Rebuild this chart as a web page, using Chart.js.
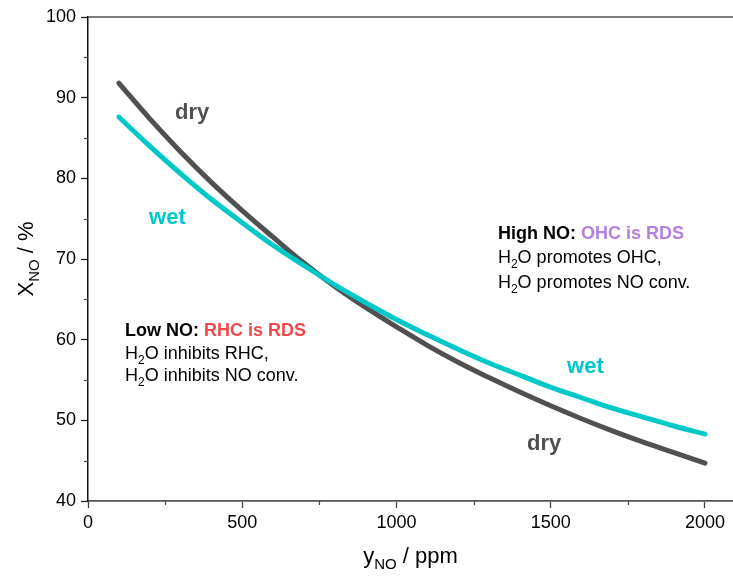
<!DOCTYPE html>
<html>
<head>
<meta charset="utf-8">
<script src="https://cdn.jsdelivr.net/npm/chart.js@4.4.1/dist/chart.umd.min.js"></script>
<style>
  html, body { margin: 0; padding: 0; background: #fff; }
  #wrap { width: 733px; height: 576px; position: relative; }
</style>
</head>
<body>
<div id="wrap"><canvas id="chart"></canvas></div>
<script>
// DATOS
const yNO = [100, 200, 300, 400, 500, 600, 700, 800, 900, 1000,
             1100, 1200, 1300, 1400, 1500, 1600, 1700, 1800, 1900, 2000];
const xDry = [91.8, 87.4, 83.3, 79.5, 76.0, 72.7, 69.5, 66.6, 64.0, 61.6,
              59.3, 57.2, 55.3, 53.5, 51.8, 50.2, 48.7, 47.3, 46.0, 44.7];
const xWet = [87.6, 84.0, 80.6, 77.4, 74.5, 71.7, 69.2, 66.8, 64.6, 62.5,
              60.6, 58.8, 57.1, 55.6, 54.1, 52.8, 51.5, 50.4, 49.3, 48.3];

const xMajorTicks = [0, 500, 1000, 1500, 2000];
const xMinorTicks = [250, 750, 1250, 1750];
const yMajorTicks = [40, 50, 60, 70, 80, 90, 100];
const yMinorTicks = [45, 55, 65, 75, 85, 95];

const FONT = '"Liberation Sans", Arial, sans-serif';
const DRY_COLOR = '#505050';
const WET_COLOR = '#00c8c8';

// DIBUJAR TEXTO CON SUBINDICES
function drawRich(ctx, parts, x, y, size) {
  let cx = x;
  parts.forEach(p => {
    const fs = p.sub ? Math.round(size * 0.68) : size;
    ctx.font = (p.bold ? 'bold ' : '') + fs + 'px ' + FONT;
    ctx.fillStyle = p.color || '#000';
    ctx.fillText(p.t, cx, p.sub ? y + size * 0.28 : y);
    cx += ctx.measureText(p.t).width;
  });
  return cx - x;
}

function richWidth(ctx, parts, size) {
  let w = 0;
  parts.forEach(p => {
    const fs = p.sub ? Math.round(size * 0.68) : size;
    ctx.font = (p.bold ? 'bold ' : '') + fs + 'px ' + FONT;
    w += ctx.measureText(p.t).width;
  });
  return w;
}

// BLOQUES DE TEXTO (posicion en coordenadas de datos)
const notes = [
  { x: 282, y: 87.3, size: 22, lines: [[{ t: 'dry', bold: true, color: DRY_COLOR }]] },
  { x: 198, y: 74.4, size: 22, lines: [[{ t: 'wet', bold: true, color: WET_COLOR }]] },
  { x: 1553, y: 55.9, size: 22, lines: [[{ t: 'wet', bold: true, color: WET_COLOR }]] },
  { x: 1423, y: 46.3, size: 22, lines: [[{ t: 'dry', bold: true, color: DRY_COLOR }]] },
  { x: 120, y: 60.4, size: 18, gap: 22.5, lines: [
    [{ t: 'Low NO: ', bold: true }, { t: 'RHC is RDS', bold: true, color: '#f04848' }],
    [{ t: 'H' }, { t: '2', sub: true }, { t: 'O inhibits RHC,' }],
    [{ t: 'H' }, { t: '2', sub: true }, { t: 'O inhibits NO conv.' }]
  ] },
  { x: 1329, y: 72.5, size: 18, gap: 24.5, lines: [
    [{ t: 'High NO: ', bold: true }, { t: 'OHC is RDS', bold: true, color: '#b47ee2' }],
    [{ t: 'H' }, { t: '2', sub: true }, { t: 'O promotes OHC,' }],
    [{ t: 'H' }, { t: '2', sub: true }, { t: 'O promotes NO conv.' }]
  ] }
];

const decorPlugin = {
  id: 'decor',
  afterDraw(chart) {
    const ctx = chart.ctx;
    const xs = chart.scales.x, ys = chart.scales.y;
    const area = chart.chartArea;
    ctx.save();

    // linea superior
    ctx.strokeStyle = '#555';
    ctx.lineWidth = 1.5;
    ctx.beginPath();
    ctx.moveTo(area.left, area.top);
    ctx.lineTo(chart.width, area.top);
    ctx.stroke();

    // marcas menores
    ctx.lineWidth = 1.2;
    ctx.strokeStyle = '#444';
    xMinorTicks.forEach(v => {
      const px = Math.round(xs.getPixelForValue(v)) + 0.5;
      ctx.beginPath();
      ctx.moveTo(px, area.bottom);
      ctx.lineTo(px, area.bottom + 4);
      ctx.stroke();
    });
    yMinorTicks.forEach(v => {
      const py = Math.round(ys.getPixelForValue(v)) + 0.5;
      ctx.beginPath();
      ctx.moveTo(area.left, py);
      ctx.lineTo(area.left - 4, py);
      ctx.stroke();
    });

    // anotaciones
    ctx.textBaseline = 'alphabetic';
    ctx.textAlign = 'left';
    notes.forEach(n => {
      const px = xs.getPixelForValue(n.x);
      const py = ys.getPixelForValue(n.y);
      n.lines.forEach((line, i) => drawRich(ctx, line, px, py + i * (n.gap || 0), n.size));
    });

    // titulo eje x
    const xTitle = [{ t: 'y' }, { t: 'NO', sub: true }, { t: ' / ppm' }];
    const wX = richWidth(ctx, xTitle, 22);
    drawRich(ctx, xTitle, (area.left + area.right) / 2 - wX / 2, 563, 22);

    // titulo eje y
    const yTitle = [{ t: 'X' }, { t: 'NO', sub: true }, { t: ' / %' }];
    const wY = richWidth(ctx, yTitle, 22);
    ctx.translate(33, (area.top + area.bottom) / 2);
    ctx.rotate(-Math.PI / 2);
    drawRich(ctx, yTitle, -wY / 2, 0, 22);

    ctx.restore();
  }
};

const ctx = document.getElementById('chart');
const chart = new Chart(ctx, {
  type: 'line',
  data: {
    datasets: [
      {
        label: 'wet',
        data: yNO.map((v, i) => ({ x: v, y: xWet[i] })),
        borderColor: WET_COLOR,
        borderWidth: 5,
        borderCapStyle: 'round',
        pointRadius: 0,
        tension: 0.4,
        fill: false
      },
      {
        label: 'dry',
        data: yNO.map((v, i) => ({ x: v, y: xDry[i] })),
        borderColor: DRY_COLOR,
        borderWidth: 5,
        borderCapStyle: 'round',
        pointRadius: 0,
        tension: 0.4,
        fill: false
      }
    ]
  },
  options: {
    responsive: true,
    maintainAspectRatio: false,
    animation: false,
    layout: { padding: { top: 17, right: 0, left: 0, bottom: 0 } },
    plugins: {
      legend: { display: false },
      tooltip: { enabled: false }
    },
    scales: {
      x: {
        type: 'linear',
        min: 0,
        max: 2091,
        afterBuildTicks: s => { s.ticks = xMajorTicks.map(v => ({ value: v })); },
        afterFit: s => { s.height = 75; },
        ticks: {
          color: '#000',
          font: { family: FONT, size: 18 },
          padding: 4,
          maxRotation: 0,
          callback: v => String(v)
        },
        grid: {
          drawOnChartArea: false,
          drawTicks: true,
          tickLength: 7,
          tickColor: '#444',
          tickWidth: 1.3
        },
        border: { display: true, color: '#555', width: 1.8 }
      },
      y: {
        min: 40,
        max: 100,
        afterBuildTicks: s => { s.ticks = yMajorTicks.map(v => ({ value: v })); },
        afterFit: s => { s.width = 88; },
        ticks: {
          color: '#000',
          font: { family: FONT, size: 18 },
          padding: 5,
          callback: v => String(v)
        },
        grid: {
          drawOnChartArea: false,
          drawTicks: true,
          tickLength: 7,
          tickColor: '#222',
          tickWidth: 1.3
        },
        border: { display: true, color: '#111', width: 1.5 }
      }
    }
  },
  plugins: [decorPlugin]
});
</script>
</body>
</html>
